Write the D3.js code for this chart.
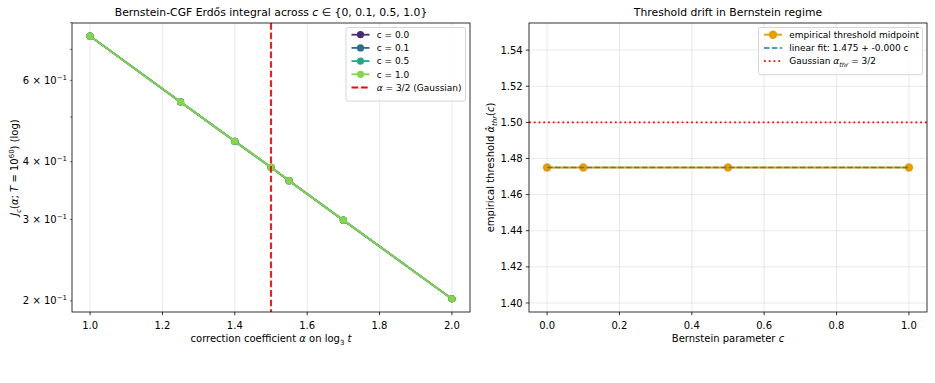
<!DOCTYPE html>
<html>
<head>
<meta charset="utf-8">
<script src="https://cdn.jsdelivr.net/npm/d3@7"></script>
<style>
  body { margin: 0; background: #fff; }
  svg text { font-family: "DejaVu Sans", sans-serif; fill: #000; }
</style>
</head>
<body>
<svg id="viz"></svg>
<script>
// left panel: J_c(alpha) for each Bernstein c (all four curves coincide)
const alphaVals = [1.0, 1.25, 1.4, 1.5, 1.55, 1.7, 2.0]
const cLabels = ['c = 0.0', 'c = 0.1', 'c = 0.5', 'c = 1.0']
const jC00 = [0.748, 0.539, 0.443, 0.389, 0.364, 0.299, 0.202]
const jC01 = [0.748, 0.539, 0.443, 0.389, 0.364, 0.299, 0.202]
const jC05 = [0.748, 0.539, 0.443, 0.389, 0.364, 0.299, 0.202]
const jC10 = [0.748, 0.539, 0.443, 0.389, 0.364, 0.299, 0.202]
const gaussAlpha = 1.5
const leftXTicks = [1.0, 1.2, 1.4, 1.6, 1.8, 2.0]
const leftYMinor = [0.2, 0.3, 0.4, 0.5, 0.6, 0.7, 0.8]
const leftYLabelled = [0.2, 0.3, 0.4, 0.6]

// right panel: empirical threshold vs c
const cParams = [0.0, 0.1, 0.5, 1.0]
const thrMid = [1.475, 1.475, 1.475, 1.475]
const fitIntercept = 1.475
const fitSlope = -0.000
const gaussThr = 1.5
const rightXTicks = [0.0, 0.2, 0.4, 0.6, 0.8, 1.0]
const rightYTicks = [1.40, 1.42, 1.44, 1.46, 1.48, 1.50, 1.52, 1.54]
const rightYLim = [1.395, 1.555]

const W = 935, H = 383
const FS = 10      // ticks and axis labels
const LFS = 9      // legend
const TFS = 10.8   // titles
const svg = d3.select('#viz').attr('width', W).attr('height', H)

const seriesColors = [0.12, 0.35, 0.6, 0.82].map(t => d3.interpolateViridis(t))
const gridStyle = g => g.attr('stroke', '#b0b0b0').attr('stroke-opacity', 0.35).attr('stroke-width', 0.8)

// text with italic / sub / sup runs
function rich(sel, parts, fs) {
    let off = 0
    parts.forEach(p => {
        let s = p[0], k = p[1] || ''
        let target = k.includes('sub') ? fs * 0.28 : (k.includes('sup') ? -fs * 0.42 : 0)
        let ts = sel.append('tspan').text(s).attr('dy', target - off)
        off = target
        if (k.includes('sub') || k.includes('sup')) ts.attr('font-size', fs * 0.7)
        if (k.includes('i')) ts.attr('font-style', 'italic')
    })
    return sel
}

function frame(g, box) {
    g.append('rect')
        .attr('x', box.x0).attr('y', box.y0)
        .attr('width', box.x1 - box.x0).attr('height', box.y1 - box.y0)
        .attr('fill', 'none').attr('stroke', '#000').attr('stroke-width', 0.8)
}

function legend(g, right, top, rows, width) {
    let rowH = 13.2
    let h = 7.6 + rows.length * rowH
    let x0 = right - width
    g.append('rect')
        .attr('x', x0).attr('y', top).attr('width', width).attr('height', h)
        .attr('rx', 2).attr('fill', '#fff').attr('fill-opacity', 0.8)
        .attr('stroke', '#cccccc').attr('stroke-width', 0.8)
    rows.forEach((r, i) => {
        let cy = top + 7.2 + i * rowH
        let hx0 = x0 + 5.5, hx1 = hx0 + 18
        let ln = g.append('line')
            .attr('x1', hx0).attr('x2', hx1).attr('y1', cy).attr('y2', cy)
            .attr('stroke', r.color).attr('stroke-width', r.width)
        if (r.dash) ln.attr('stroke-dasharray', r.dash)
        if (r.marker) {
            g.append('circle').attr('cx', (hx0 + hx1) / 2).attr('cy', cy)
                .attr('r', r.marker).attr('fill', r.color)
        }
        rich(g.append('text').attr('x', hx1 + 7.2).attr('y', cy + 3.3).attr('font-size', LFS), r.label, LFS)
    })
}

// ---------------- left panel ----------------
function drawLeft() {
    let box = { x0: 72, x1: 470, y0: 23, y1: 312 }
    let g = svg.append('g')
    let allJ = [jC00, jC01, jC05, jC10]

    let xExt = d3.extent(alphaVals)
    let xPad = (xExt[1] - xExt[0]) * 0.05
    let x = d3.scaleLinear().domain([xExt[0] - xPad, xExt[1] + xPad]).range([box.x0, box.x1])
    let lo = d3.min(allJ.flat()), hi = d3.max(allJ.flat())
    let span = Math.log10(hi / lo)
    let y = d3.scaleLog()
        .domain([lo / Math.pow(10, 0.05 * span), hi * Math.pow(10, 0.05 * span)])
        .range([box.y1, box.y0])

    // grid on x only (no decade inside the y range)
    leftXTicks.forEach(t => {
        g.append('line').attr('x1', x(t)).attr('x2', x(t)).attr('y1', box.y0).attr('y2', box.y1).call(gridStyle)
    })

    let line = d3.line().x((d, i) => x(alphaVals[i])).y(d => y(d))
    allJ.forEach((vals, si) => {
        g.append('path').datum(vals)
            .attr('d', line).attr('fill', 'none')
            .attr('stroke', seriesColors[si]).attr('stroke-width', 1.8)
        g.selectAll(null).data(vals).enter().append('circle')
            .attr('cx', (d, i) => x(alphaVals[i])).attr('cy', d => y(d))
            .attr('r', 3.6).attr('fill', seriesColors[si])
    })

    g.append('line')
        .attr('x1', x(gaussAlpha)).attr('x2', x(gaussAlpha)).attr('y1', box.y0).attr('y2', box.y1)
        .attr('stroke', '#ff0000').attr('stroke-width', 1.8).attr('stroke-dasharray', '6.66,2.88')

    frame(g, box)

    // x ticks
    leftXTicks.forEach(t => {
        g.append('line').attr('x1', x(t)).attr('x2', x(t)).attr('y1', box.y1).attr('y2', box.y1 + 3.2)
            .attr('stroke', '#000').attr('stroke-width', 0.8)
        g.append('text').attr('x', x(t)).attr('y', 328.5).attr('text-anchor', 'middle')
            .attr('font-size', FS).text(d3.format('.1f')(t))
    })
    // y minor ticks on log axis
    leftYMinor.filter(v => y(v) >= box.y0 - 0.5 && y(v) <= box.y1).forEach(v => {
        g.append('line').attr('x1', box.x0 - 1.8).attr('x2', box.x0).attr('y1', y(v)).attr('y2', y(v))
            .attr('stroke', '#000').attr('stroke-width', 0.6)
    })
    leftYLabelled.forEach(v => {
        let m = Math.round(v * 10)
        rich(g.append('text').attr('x', box.x0 - 5).attr('y', y(v) + 3.6)
            .attr('text-anchor', 'end').attr('font-size', FS),
            [[m + ' \u00d7 10'], ['\u22121', 'sup']], FS)
    })

    // title and labels
    rich(svg.append('text').attr('x', (box.x0 + box.x1) / 2).attr('y', 15.5)
        .attr('text-anchor', 'middle').attr('font-size', TFS),
        [['Bernstein-CGF Erd\u0151s integral across '], ['c', 'i'], [' \u2208 {0, 0.1, 0.5, 1.0}']], TFS)
    rich(svg.append('text').attr('x', (box.x0 + box.x1) / 2).attr('y', 342)
        .attr('text-anchor', 'middle').attr('font-size', FS),
        [['correction coefficient '], ['\u03b1', 'i'], [' on log'], ['3', 'sub'], [' '], ['t', 'i']], FS)
    rich(svg.append('text')
        .attr('transform', `translate(18,${(box.y0 + box.y1) / 2}) rotate(-90)`)
        .attr('text-anchor', 'middle').attr('font-size', FS),
        [['J', 'i'], ['c', 'isub'], ['('], ['\u03b1', 'i'], ['; '], ['T', 'i'], [' = 10'], ['60', 'sup'], [') (log)']], FS)

    legend(g, box.x1 - 4.5, box.y0 + 4.5, [
        ...cLabels.map((c, i) => ({ color: seriesColors[i], width: 1.8, marker: 3.6, label: [[c]] })),
        { color: '#ff0000', width: 1.8, dash: '6.66,2.88', label: [['\u03b1', 'i'], [' = 3/2 (Gaussian)']] }
    ], 119.5)
}

// ---------------- right panel ----------------
function drawRight() {
    let box = { x0: 529, x1: 927, y0: 23, y1: 312 }
    let g = svg.append('g')

    let xExt = d3.extent(cParams)
    let xPad = (xExt[1] - xExt[0]) * 0.05
    let x = d3.scaleLinear().domain([xExt[0] - xPad, xExt[1] + xPad]).range([box.x0, box.x1])
    let y = d3.scaleLinear().domain(rightYLim).range([box.y1, box.y0])

    rightXTicks.forEach(t => {
        g.append('line').attr('x1', x(t)).attr('x2', x(t)).attr('y1', box.y0).attr('y2', box.y1).call(gridStyle)
    })
    rightYTicks.forEach(t => {
        g.append('line').attr('x1', box.x0).attr('x2', box.x1).attr('y1', y(t)).attr('y2', y(t)).call(gridStyle)
    })

    g.append('path').datum(thrMid)
        .attr('d', d3.line().x((d, i) => x(cParams[i])).y(d => y(d)))
        .attr('fill', 'none').attr('stroke', '#e69f00').attr('stroke-width', 1.8)
    g.selectAll(null).data(thrMid).enter().append('circle')
        .attr('cx', (d, i) => x(cParams[i])).attr('cy', d => y(d))
        .attr('r', 4.2).attr('fill', '#e69f00')

    let cx0 = d3.min(cParams), cx1 = d3.max(cParams)
    g.append('line')
        .attr('x1', x(cx0)).attr('x2', x(cx1))
        .attr('y1', y(fitIntercept + fitSlope * cx0)).attr('y2', y(fitIntercept + fitSlope * cx1))
        .attr('stroke', '#1f77b4').attr('stroke-opacity', 0.85).attr('stroke-width', 1.5)
        .attr('stroke-dasharray', '5.5,2.4')

    g.append('line')
        .attr('x1', box.x0).attr('x2', box.x1).attr('y1', y(gaussThr)).attr('y2', y(gaussThr))
        .attr('stroke', '#ff0000').attr('stroke-width', 1.8).attr('stroke-dasharray', '1.8,2.97')

    frame(g, box)

    rightXTicks.forEach(t => {
        g.append('line').attr('x1', x(t)).attr('x2', x(t)).attr('y1', box.y1).attr('y2', box.y1 + 3.2)
            .attr('stroke', '#000').attr('stroke-width', 0.8)
        g.append('text').attr('x', x(t)).attr('y', 328.5).attr('text-anchor', 'middle')
            .attr('font-size', FS).text(d3.format('.1f')(t))
    })
    rightYTicks.forEach(t => {
        g.append('line').attr('x1', box.x0 - 3.2).attr('x2', box.x0).attr('y1', y(t)).attr('y2', y(t))
            .attr('stroke', '#000').attr('stroke-width', 0.8)
        g.append('text').attr('x', box.x0 - 6.3).attr('y', y(t) + 3.6).attr('text-anchor', 'end')
            .attr('font-size', FS).text(d3.format('.2f')(t))
    })

    svg.append('text').attr('x', (box.x0 + box.x1) / 2).attr('y', 15.5)
        .attr('text-anchor', 'middle').attr('font-size', TFS)
        .text('Threshold drift in Bernstein regime')
    rich(svg.append('text').attr('x', (box.x0 + box.x1) / 2).attr('y', 342)
        .attr('text-anchor', 'middle').attr('font-size', FS),
        [['Bernstein parameter '], ['c', 'i']], FS)
    rich(svg.append('text')
        .attr('transform', `translate(494,${(box.y0 + box.y1) / 2}) rotate(-90)`)
        .attr('text-anchor', 'middle').attr('font-size', FS),
        [['empirical threshold '], ['\u03b1\u0302', 'i'], ['thr', 'isub'], ['('], ['c', 'i'], [')']], FS)

    let fitLabel = `linear fit: ${d3.format('.3f')(fitIntercept)} + ${fitSlope < 0 || Object.is(fitSlope, -0) ? '-' : ''}${d3.format('.3f')(Math.abs(fitSlope))} c`
    legend(g, box.x1 - 4.5, box.y0 + 4.5, [
        { color: '#e69f00', width: 1.8, marker: 4.2, label: [['empirical threshold midpoint']] },
        { color: '#1f77b4', width: 1.5, dash: '5.5,2.4', label: [[fitLabel]] },
        { color: '#ff0000', width: 1.8, dash: '1.8,2.97', label: [['Gaussian '], ['\u03b1', 'i'], ['thr', 'isub'], [' = 3/2']] }
    ], 164)
}

drawLeft()
drawRight()
</script>
</body>
</html>
